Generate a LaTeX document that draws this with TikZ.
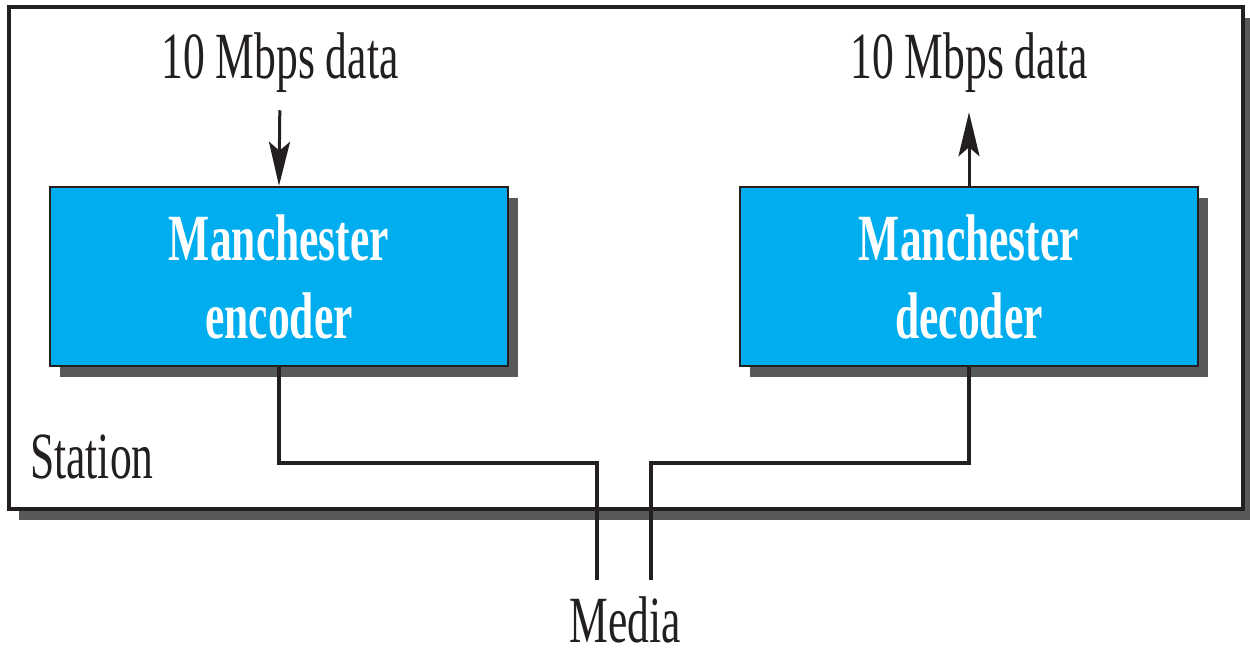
\documentclass[tikz,border=0pt]{standalone}
\usepackage{fontspec}
\setmainfont{Liberation Serif}[FakeStretch=0.66]
\usetikzlibrary{arrows.meta,shadows}
\definecolor{boxcyan}{RGB}{0,174,239}
\definecolor{inkdark}{RGB}{35,31,32}
\definecolor{shadowgray}{RGB}{88,89,91}
\tikzset{
  bigfont/.style={font=\fontsize{66}{78}\selectfont},
  stationbox/.style={draw=inkdark, line width=3.5pt, fill=white, minimum width=1234pt, minimum height=502pt, inner sep=0pt,
    drop shadow={shadow xshift=10pt, shadow yshift=-11pt, fill=shadowgray, opacity=1}},
  codecbox/.style={draw=inkdark, line width=2.5pt, fill=boxcyan, minimum width=458pt, minimum height=179pt, inner sep=0pt,
    align=center, text=white, font=\fontsize{66}{78}\selectfont\bfseries,
    drop shadow={shadow xshift=10pt, shadow yshift=-11pt, fill=shadowgray, opacity=1}},
  plainlabel/.style={bigfont, inner sep=0pt, text=inkdark},
  arr/.style={draw=inkdark, line width=3pt, -{Stealth[length=44pt,width=21pt,inset=9pt]}},
  wire/.style={draw=inkdark, line width=4pt},
}
\begin{document}
\begin{tikzpicture}[x=1pt,y=-1pt]
\useasboundingbox (0,0) rectangle (1250,653);
\node[stationbox] (station) at (626,258) {};
\node[codecbox] (enc) at (279,276.5) {Manchester\\encoder};
\node[codecbox] (dec) at (969,276.5) {Manchester\\decoder};
\node[plainlabel, anchor=base] (inlab) at (280,78) {10 Mbps data};
\node[plainlabel, anchor=base] (outlab) at (969,78) {10 Mbps data};
\node[plainlabel, anchor=base west] (stlab) at (30,478) {Station};
\node[plainlabel, anchor=base] (media) at (625,642) {Media};
\draw[arr, shorten <=18pt] (inlab.south) -- (enc.north);
\draw[arr, shorten >=20pt] (dec.north) -- (outlab.south);
\coordinate (j1) at (597,463);
\coordinate (m1) at (597,580);
\coordinate (j2) at (651,463);
\coordinate (m2) at (651,580);
\draw[wire] (enc.south) |- (j1) -- (m1);
\draw[wire] (dec.south) |- (j2) -- (m2);
\end{tikzpicture}
\end{document}
